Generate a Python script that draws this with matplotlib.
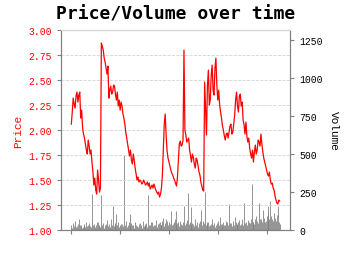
import matplotlib
matplotlib.use("Agg")
import matplotlib.pyplot as plt
import matplotlib.dates as mdates
import pandas as pd

# Werte (woechentlich)
start = "2010-01-04"
price = [2.06, 2.18, 2.32, 2.26, 2.22, 2.34, 2.38, 2.28, 2.35, 2.38,
         2.12, 2.20, 2.02, 1.96, 1.92, 1.86, 1.80, 1.76, 1.90, 1.84,
         1.76, 1.80, 1.68, 1.58, 1.45, 1.52, 1.40, 1.36, 1.60, 1.50,
         1.38, 1.42, 2.87, 2.84, 2.80, 2.72, 2.68, 2.62, 2.56, 2.64,
         2.32, 2.40, 2.44, 2.36, 2.38, 2.45, 2.44, 2.36, 2.30, 2.38,
         2.24, 2.30, 2.20, 2.28, 2.24, 2.16, 2.12, 2.06, 1.98, 1.92,
         1.86, 1.80, 1.74, 1.80, 1.70, 1.66, 1.76, 1.70, 1.62, 1.56,
         1.50, 1.53, 1.48, 1.50, 1.49, 1.46, 1.47, 1.50, 1.48, 1.45,
         1.46, 1.48, 1.44, 1.47, 1.41, 1.43, 1.45, 1.42, 1.46, 1.43,
         1.40, 1.38, 1.36, 1.38, 1.33, 1.36, 1.42, 1.55, 1.80, 2.06,
         2.16, 1.95, 1.79, 1.72, 1.68, 1.64, 1.60, 1.57, 1.55, 1.52,
         1.50, 1.47, 1.44, 1.52, 1.70, 1.86, 1.89, 1.84, 1.85, 1.90,
         2.80, 2.00, 1.95, 1.88, 1.90, 1.92, 1.80, 1.74, 1.68, 1.76,
         1.73, 1.66, 1.62, 1.72, 1.70, 1.64, 1.58, 1.55, 1.48, 1.44,
         1.40, 1.39, 2.48, 2.20, 1.95, 2.45, 2.60, 2.25, 2.30, 2.55,
         2.65, 2.40, 2.35, 2.62, 2.72, 2.45, 2.30, 2.40, 2.25, 2.18,
         2.12, 2.04, 2.00, 1.94, 1.90, 1.96, 1.97, 1.92, 1.98, 2.04,
         2.06, 1.96, 1.98, 2.06, 2.15, 2.30, 2.38, 2.24, 2.18, 2.34,
         2.36, 2.24, 2.28, 2.10, 2.05, 1.96, 2.08, 1.94, 1.88, 1.92,
         1.82, 1.76, 1.72, 1.80, 1.68, 1.78, 1.85, 1.76, 1.80, 1.90,
         1.88, 1.84, 1.96, 1.86, 1.78, 1.72, 1.68, 1.64, 1.60, 1.56,
         1.54, 1.58, 1.50, 1.46, 1.47, 1.42, 1.40, 1.34, 1.30, 1.27,
         1.26, 1.30, 1.29]
volume = [30, 15, 45, 25, 60, 20, 25, 40, 70, 30,
          35, 15, 20, 35, 40, 20, 55, 25, 30, 45,
          25, 20, 235, 30, 40, 20, 30, 55, 50, 25,
          35, 20, 230, 30, 45, 15, 30, 40, 65, 25,
          40, 20, 75, 35, 160, 25, 35, 45, 105, 30,
          50, 20, 30, 40, 40, 25, 495, 35, 60, 20,
          35, 50, 105, 25, 45, 30, 30, 15, 55, 35,
          25, 20, 40, 45, 35, 15, 60, 25, 30, 40,
          45, 20, 230, 30, 35, 50, 50, 25, 30, 35,
          65, 20, 40, 45, 55, 30, 35, 60, 80, 25,
          45, 70, 60, 30, 50, 40, 125, 35, 40, 55,
          70, 30, 125, 45, 50, 25, 60, 40, 35, 55,
          160, 30, 45, 65, 245, 40, 55, 30, 150, 45,
          40, 25, 70, 35, 50, 20, 45, 60, 135, 35,
          60, 45, 250, 30, 40, 55, 55, 25, 30, 40,
          70, 30, 45, 20, 35, 45, 60, 30, 85, 40,
          40, 25, 55, 35, 35, 60, 50, 30, 170, 45,
          45, 25, 60, 35, 85, 50, 40, 30, 55, 65,
          35, 40, 70, 30, 180, 45, 50, 35, 65, 50,
          45, 70, 300, 55, 55, 40, 70, 90, 60, 45,
          180, 70, 75, 50, 135, 80, 55, 60, 90, 120,
          160, 75, 190, 95, 70, 60, 110, 80, 60, 100,
          160, 50, 40]
dates = pd.date_range(start, periods=len(price), freq="7D")

plt.rcParams["font.family"] = "Liberation Mono"

fig = plt.figure(figsize=(3.5, 2.55), dpi=100)
ax1 = fig.add_axes([0.174, 0.094, 0.655, 0.784])
ax2 = ax1.twinx()

# Volumen als duenne graue Striche im Hintergrund
ax2.vlines(dates, 0, volume, color="grey", linewidth=0.7, alpha=0.85)
ax2.set_ylim(0, 1316)
ax2.set_yticks([0, 250, 500, 750, 1000, 1250])
ax2.set_ylabel("Volume", fontsize=8, rotation=270, labelpad=12)
ax2.tick_params(axis="y", labelsize=7, colors="black", length=3)

# Preis als rote Linie vorne
ax1.set_zorder(ax2.get_zorder() + 1)
ax1.patch.set_visible(False)
ax1.plot(dates, price, color="red", linewidth=0.9)
ax1.set_ylim(1.0, 3.0)
ax1.set_yticks([1.0, 1.25, 1.5, 1.75, 2.0, 2.25, 2.5, 2.75, 3.0])
ax1.yaxis.set_major_formatter(plt.FormatStrFormatter("%.2f"))
ax1.set_ylabel("Price", fontsize=8, color="red")
ax1.tick_params(axis="y", labelsize=7, labelcolor="red", color="grey", length=3)
ax1.grid(axis="y", linestyle="--", color="lightgrey", linewidth=0.6)

ax1.xaxis.set_major_locator(mdates.YearLocator())
ax1.tick_params(axis="x", labelbottom=False, color="grey", length=3)

for ax in (ax1, ax2):
    for s in ("left", "right", "bottom"):
        ax.spines[s].set_color("grey")
    ax.spines["top"].set_color("lightgrey")
ax2.tick_params(axis="y", color="grey")

ax1.set_title("Price/Volume over time", fontsize=13, fontweight="bold",
              family="DejaVu Sans Mono", pad=8)

fig.savefig("out.png", dpi=100)
